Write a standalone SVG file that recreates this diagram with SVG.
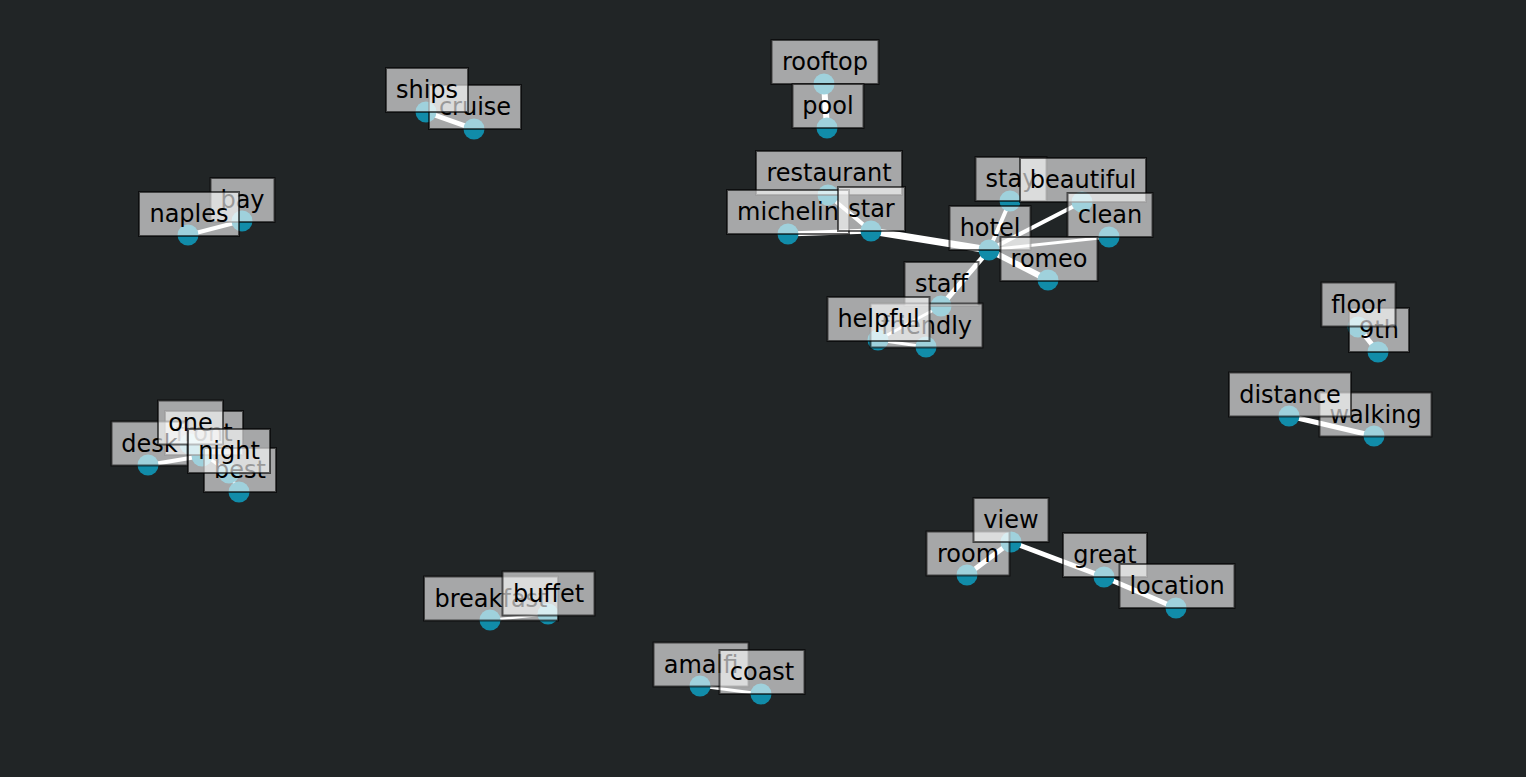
<svg xmlns="http://www.w3.org/2000/svg" width="1526" height="777" viewBox="0 0 1526 777">
<style>
.e{stroke:#ffffff;stroke-linecap:butt;fill:none}
.n{fill:#118ca9}
.b{fill:#ffffff;fill-opacity:0.6;stroke:#000000;stroke-opacity:0.6;stroke-width:2}
.t{font-family:"DejaVu Sans",sans-serif;font-size:24px;fill:#000000;text-anchor:middle}
</style>
<rect x="0" y="0" width="1526" height="777" fill="#212526"/>
<g id="edges">
<line class="e" x1="824" y1="84" x2="827" y2="128" stroke-width="6"/>
<line class="e" x1="426" y1="112" x2="474" y2="129" stroke-width="5"/>
<line class="e" x1="188" y1="235" x2="242" y2="221" stroke-width="4"/>
<line class="e" x1="828" y1="195" x2="871" y2="231" stroke-width="4"/>
<line class="e" x1="788" y1="234" x2="871" y2="231" stroke-width="5"/>
<line class="e" x1="871" y1="231" x2="989" y2="250" stroke-width="7"/>
<line class="e" x1="989" y1="250" x2="1010" y2="201" stroke-width="4"/>
<line class="e" x1="989" y1="250" x2="1082" y2="202" stroke-width="4"/>
<line class="e" x1="989" y1="250" x2="1109" y2="237" stroke-width="3"/>
<line class="e" x1="989" y1="250" x2="1048" y2="280" stroke-width="6"/>
<line class="e" x1="989" y1="250" x2="941" y2="306" stroke-width="5"/>
<line class="e" x1="941" y1="306" x2="878" y2="340" stroke-width="3"/>
<line class="e" x1="878" y1="340" x2="926" y2="347" stroke-width="3"/>
<line class="e" x1="1358" y1="327" x2="1378" y2="352" stroke-width="5"/>
<line class="e" x1="1289" y1="416" x2="1374" y2="436" stroke-width="5"/>
<line class="e" x1="148" y1="465" x2="202" y2="456" stroke-width="4"/>
<line class="e" x1="190" y1="444" x2="229" y2="473" stroke-width="3"/>
<line class="e" x1="229" y1="473" x2="239" y2="492" stroke-width="3"/>
<line class="e" x1="490" y1="620" x2="548" y2="614" stroke-width="2.5"/>
<line class="e" x1="700" y1="686" x2="761" y2="694" stroke-width="3"/>
<line class="e" x1="967" y1="575" x2="1011" y2="542" stroke-width="5"/>
<line class="e" x1="1011" y1="542" x2="1104" y2="577" stroke-width="5"/>
<line class="e" x1="1104" y1="577" x2="1176" y2="608" stroke-width="5"/>
</g>
<g id="nodes">
<g id="node-rooftop"><circle class="n" cx="824" cy="84" r="10.5"/></g>
<g id="node-pool"><circle class="n" cx="827" cy="128" r="10.5"/></g>
<g id="node-ships"><circle class="n" cx="426" cy="112" r="10.5"/></g>
<g id="node-cruise"><circle class="n" cx="474" cy="129" r="10.5"/></g>
<g id="node-bay"><circle class="n" cx="242" cy="221" r="10.5"/></g>
<g id="node-naples"><circle class="n" cx="188" cy="235" r="10.5"/></g>
<g id="node-restaurant"><circle class="n" cx="828" cy="195" r="10.5"/></g>
<g id="node-michelin"><circle class="n" cx="788" cy="234" r="10.5"/></g>
<g id="node-star"><circle class="n" cx="871" cy="231" r="10.5"/></g>
<g id="node-stay"><circle class="n" cx="1010" cy="201" r="10.5"/></g>
<g id="node-beautiful"><circle class="n" cx="1082" cy="202" r="10.5"/></g>
<g id="node-clean"><circle class="n" cx="1109" cy="237" r="10.5"/></g>
<g id="node-hotel"><circle class="n" cx="989" cy="250" r="10.5"/></g>
<g id="node-romeo"><circle class="n" cx="1048" cy="280" r="10.5"/></g>
<g id="node-staff"><circle class="n" cx="941" cy="306" r="10.5"/></g>
<g id="node-helpful"><circle class="n" cx="878" cy="340" r="10.5"/></g>
<g id="node-friendly"><circle class="n" cx="926" cy="347" r="10.5"/></g>
<g id="node-floor"><circle class="n" cx="1358" cy="327" r="10.5"/></g>
<g id="node-9th"><circle class="n" cx="1378" cy="352" r="10.5"/></g>
<g id="node-distance"><circle class="n" cx="1289" cy="416" r="10.5"/></g>
<g id="node-walking"><circle class="n" cx="1374" cy="436" r="10.5"/></g>
<g id="node-one"><circle class="n" cx="190" cy="444" r="10.5"/></g>
<g id="node-front"><circle class="n" cx="202" cy="456" r="10.5"/></g>
<g id="node-desk"><circle class="n" cx="148" cy="465" r="10.5"/></g>
<g id="node-night"><circle class="n" cx="229" cy="473" r="10.5"/></g>
<g id="node-best"><circle class="n" cx="239" cy="492" r="10.5"/></g>
<g id="node-breakfast"><circle class="n" cx="490" cy="620" r="10.5"/></g>
<g id="node-buffet"><circle class="n" cx="548" cy="614" r="10.5"/></g>
<g id="node-amalfi"><circle class="n" cx="700" cy="686" r="10.5"/></g>
<g id="node-coast"><circle class="n" cx="761" cy="694" r="10.5"/></g>
<g id="node-room"><circle class="n" cx="967" cy="575" r="10.5"/></g>
<g id="node-view"><circle class="n" cx="1011" cy="542" r="10.5"/></g>
<g id="node-great"><circle class="n" cx="1104" cy="577" r="10.5"/></g>
<g id="node-location"><circle class="n" cx="1176" cy="608" r="10.5"/></g>
</g>
<g id="labels">
<g id="label-rooftop"><rect class="b" x="771.5" y="40" width="107" height="44"/><text class="t" x="825" y="70">rooftop</text></g>
<g id="label-pool"><rect class="b" x="792.5" y="84" width="71" height="44"/><text class="t" x="828" y="114">pool</text></g>
<g id="label-cruise"><rect class="b" x="429" y="85" width="92" height="44"/><text class="t" x="475" y="115">cruise</text></g>
<g id="label-ships"><rect class="b" x="386" y="68" width="82" height="44"/><text class="t" x="427" y="98">ships</text></g>
<g id="label-bay"><rect class="b" x="210.5" y="178" width="64" height="44"/><text class="t" x="242.5" y="208">bay</text></g>
<g id="label-naples"><rect class="b" x="139" y="192" width="100" height="44"/><text class="t" x="189" y="222">naples</text></g>
<g id="label-restaurant"><rect class="b" x="756" y="151" width="146" height="44"/><text class="t" x="829" y="181">restaurant</text></g>
<g id="label-michelin"><rect class="b" x="727" y="190" width="122" height="44"/><text class="t" x="788" y="220">michelin</text></g>
<g id="label-star"><rect class="b" x="838" y="187" width="67" height="44"/><text class="t" x="871.5" y="217">star</text></g>
<g id="label-stay"><rect class="b" x="975.5" y="157" width="71" height="44"/><text class="t" x="1011" y="187">stay</text></g>
<g id="label-beautiful"><rect class="b" x="1020" y="158" width="126" height="44"/><text class="t" x="1083" y="188">beautiful</text></g>
<g id="label-clean"><rect class="b" x="1067.5" y="193" width="85" height="44"/><text class="t" x="1110" y="223">clean</text></g>
<g id="label-hotel"><rect class="b" x="949.5" y="206" width="81" height="44"/><text class="t" x="990" y="236">hotel</text></g>
<g id="label-romeo"><rect class="b" x="1000.5" y="237" width="97" height="44"/><text class="t" x="1049" y="267">romeo</text></g>
<g id="label-staff"><rect class="b" x="904.5" y="262" width="74" height="44"/><text class="t" x="941.5" y="292">staff</text></g>
<g id="label-friendly"><rect class="b" x="870.5" y="303.5" width="112" height="44"/><text class="t" x="926.5" y="333.5">friendly</text></g>
<g id="label-helpful"><rect class="b" x="827.5" y="297" width="102" height="44"/><text class="t" x="878.5" y="327">helpful</text></g>
<g id="label-9th"><rect class="b" x="1349" y="308" width="60" height="44"/><text class="t" x="1379" y="338">9th</text></g>
<g id="label-floor"><rect class="b" x="1321.5" y="282.5" width="74" height="44"/><text class="t" x="1358.5" y="312.5">floor</text></g>
<g id="label-walking"><rect class="b" x="1319.5" y="392.5" width="112" height="44"/><text class="t" x="1375.5" y="422.5">walking</text></g>
<g id="label-distance"><rect class="b" x="1229" y="372.5" width="122" height="44"/><text class="t" x="1290" y="402.5">distance</text></g>
<g id="label-front"><rect class="b" x="165" y="411" width="78" height="44"/><text class="t" x="204" y="441">front</text></g>
<g id="label-best"><rect class="b" x="204" y="448" width="72" height="44"/><text class="t" x="240" y="478">best</text></g>
<g id="label-desk"><rect class="b" x="111.5" y="421.5" width="76" height="44"/><text class="t" x="149.5" y="451.5">desk</text></g>
<g id="label-one"><rect class="b" x="158" y="400.5" width="65" height="44"/><text class="t" x="190.5" y="430.5">one</text></g>
<g id="label-night"><rect class="b" x="188" y="429" width="82" height="44"/><text class="t" x="229" y="459">night</text></g>
<g id="label-breakfast"><rect class="b" x="424" y="576.5" width="134" height="44"/><text class="t" x="491" y="606.5">breakfast</text></g>
<g id="label-buffet"><rect class="b" x="502.5" y="571.5" width="92" height="44"/><text class="t" x="548.5" y="601.5">buffet</text></g>
<g id="label-amalfi"><rect class="b" x="653.5" y="642.5" width="95" height="44"/><text class="t" x="701" y="672.5">amalfi</text></g>
<g id="label-coast"><rect class="b" x="719.5" y="650" width="85" height="44"/><text class="t" x="762" y="680">coast</text></g>
<g id="label-room"><rect class="b" x="926.5" y="531.5" width="83" height="44"/><text class="t" x="968" y="561.5">room</text></g>
<g id="label-view"><rect class="b" x="973.5" y="498" width="75" height="44"/><text class="t" x="1011" y="528">view</text></g>
<g id="label-great"><rect class="b" x="1063" y="533" width="84" height="44"/><text class="t" x="1105" y="563">great</text></g>
<g id="label-location"><rect class="b" x="1119.5" y="564" width="115" height="44"/><text class="t" x="1177" y="594">location</text></g>
</g>
</svg>
